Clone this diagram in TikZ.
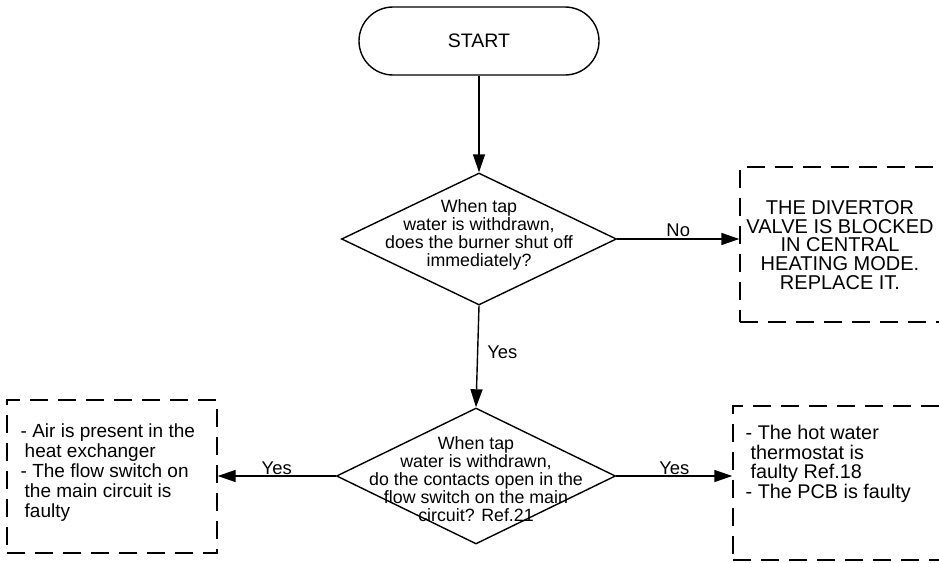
\documentclass[tikz,border=0pt]{standalone}
\usepackage{fontspec}
\setmainfont{Liberation Sans}
\usetikzlibrary{shapes.geometric,arrows.meta}
\begin{document}
\begin{tikzpicture}[x=1pt,y=-1pt,
  line width=1.4pt,
  every node/.style={inner sep=0pt},
  term/.style={draw, rounded corners=34pt, minimum width=240pt, minimum height=68pt, font=\fontsize{19.5}{20}\selectfont},
  dia/.style={draw, diamond, inner sep=0pt},
  dtext/.style={align=center, font=\fontsize{17.8}{17.9}\selectfont},
  dbox/.style={draw, dash pattern=on 18pt off 10pt, rectangle},
  capstext/.style={align=center, font=\fontsize{20}{18.7}\selectfont},
  boxtext/.style={align=left, anchor=west, font=\fontsize{19}{19.8}\selectfont},
  arr/.style={-{Triangle[length=18pt,width=12pt]}},
  lab/.style={font=\fontsize{18.4}{19}\selectfont}
]
\useasboundingbox (0,0) rectangle (939,562);
\clip (0,0) rectangle (939,562);
\fill[white] (0,0) rectangle (939,562);

\node[term] (start) at (479,41) {START};

\node[dia, minimum width=275pt, minimum height=132pt] (d1) at (479,239) {};
\node[dtext] (d1t) at (479,235) {When tap\\water is withdrawn,\\does the burner shut off\\immediately?};

\node[dbox, minimum width=201pt, minimum height=155pt] (b1) at (840.5,244.5) {};
\node[capstext] (b1t) at (840,245) {THE DIVERTOR\\VALVE IS BLOCKED\\IN CENTRAL\\HEATING MODE.\\REPLACE IT.};

\node[dia, minimum width=279pt, minimum height=136pt] (d2) at (476,476) {};
\node[dtext] (d2t) at (476,479) {When tap\\water is withdrawn,\\do the contacts open in the\\flow switch on the main\\circuit? Ref.21};

\node[dbox, minimum width=210pt, minimum height=153pt] (b2) at (112,476.5) {};
\node[boxtext] (b2t) at (20,472.5) {- Air is present in the\\\hspace{4pt}heat exchanger\\- The flow switch on\\\hspace{4pt}the main circuit is\\\hspace{4pt}faulty};

\node[dbox, minimum width=208pt, minimum height=154pt] (b3) at (837,483) {};
\node[boxtext, font=\fontsize{19.8}{19.6}\selectfont] (b3t) at (745,464) {- The hot water\\\hspace{5pt}thermostat is\\\hspace{5pt}faulty Ref.18\\- The PCB is faulty};

\draw[arr] (start.south) -- (d1.north);
\draw[arr] (d1.east) -- (d1.east -| b1.west) node[midway, above=2pt, lab] (lno) {No};
\draw[arr] (d1.south) -- (d2.north) node[pos=0.46, right=9pt, lab] (lyes1) {Yes};
\draw[arr] (d2.west) -- (d2.west -| b2.east) node[midway, above=1pt, lab] (lyes2) {Yes};
\draw[arr] (d2.east) -- (d2.east -| b3.west) node[midway, above=1pt, lab] (lyes3) {Yes};
\end{tikzpicture}
\end{document}
